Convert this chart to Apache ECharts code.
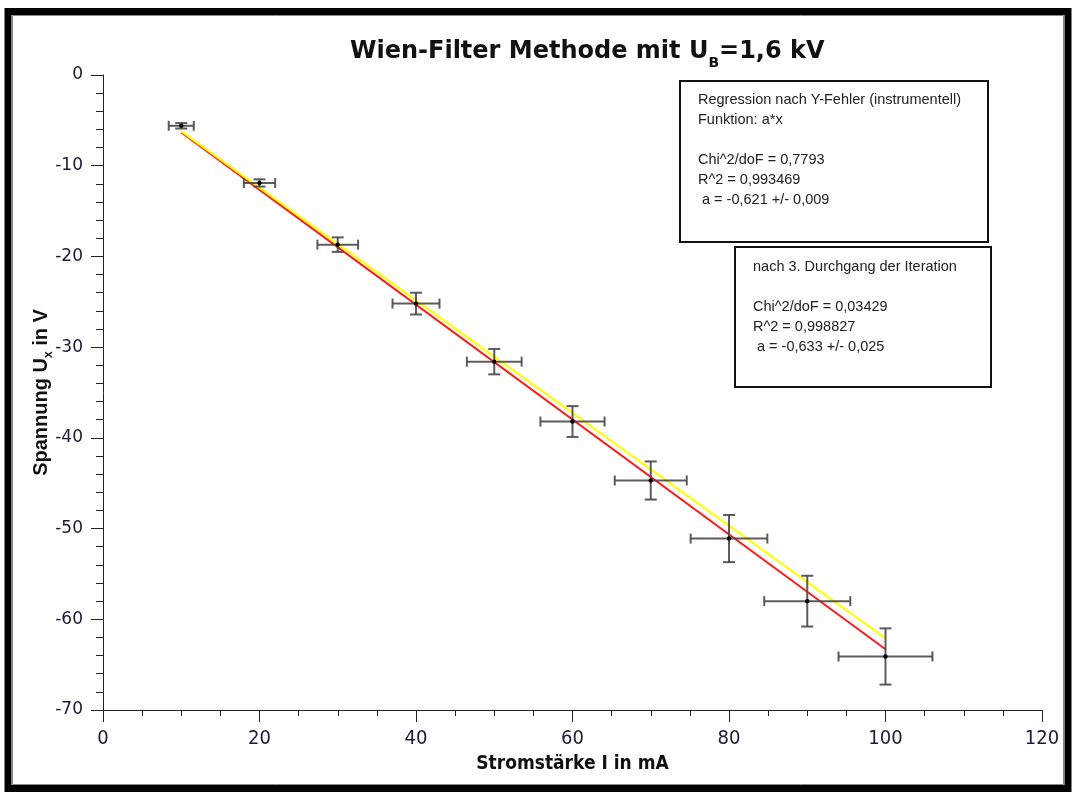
<!DOCTYPE html>
<html>
<head>
<meta charset="utf-8">
<title>Wien-Filter Methode</title>
<script src="https://cdn.jsdelivr.net/npm/echarts@6/dist/echarts.min.js"></script>
<style>
  html, body { margin: 0; padding: 0; background: #fff; }
  #chart { width: 1072px; height: 792px; }
</style>
</head>
<body>
<div id="chart"></div>
<script>
// Messwerte: Stromstärke I (mA), Spannung Ux (V) und Fehler
const current = [10, 20, 30, 40, 50, 60, 70, 80, 90, 100]
const voltage = [-5.6, -11.9, -18.7, -25.2, -31.6, -38.2, -44.7, -51.1, -58.0, -64.1]
const currentErr = [1.6, 2.0, 2.6, 3.0, 3.5, 4.1, 4.6, 4.9, 5.5, 6.0]
const voltageErr = [0.3, 0.4, 0.8, 1.2, 1.4, 1.7, 2.1, 2.6, 2.8, 3.1]

// Fitgeraden a*x (Endpunkte)
const fitX = [10, 100]
const fitYellow = [-6.21, -62.1]   // a = -0,621
const fitRed = [-6.33, -63.3]      // a = -0,633

const box1Lines = [
  'Regression nach Y-Fehler (instrumentell)',
  'Funktion: a*x',
  '',
  'Chi^2/doF = 0,7793',
  'R^2 = 0,993469',
  ' a = -0,621 +/- 0,009'
]
const box2Lines = [
  'nach 3. Durchgang der Iteration',
  '',
  'Chi^2/doF = 0,03429',
  'R^2 = 0,998827',
  ' a = -0,633 +/- 0,025'
]

const points = current.map((x, i) => [x, voltage[i], currentErr[i], voltageErr[i]])
const toLine = (ys) => fitX.map((x, i) => [x, ys[i]])

const labelFont = '"Liberation Sans Narrow", "DejaVu Sans Condensed", sans-serif'
const boxFont = '"Liberation Sans", Arial, sans-serif'
const axisColor = '#222'

const renderErrorBar = (params, api) => {
  const x = api.value(0)
  const y = api.value(1)
  const ex = api.value(2)
  const ey = api.value(3)
  const c = api.coord([x, y])
  const l = api.coord([x - ex, y])
  const r = api.coord([x + ex, y])
  const t = api.coord([x, y + ey])
  const b = api.coord([x, y - ey])
  const style = { stroke: '#4a4a4a', lineWidth: 2, opacity: 0.9 }
  const cap = 5
  const line = (x1, y1, x2, y2) => ({ type: 'line', shape: { x1, y1, x2, y2 }, style })
  return {
    type: 'group',
    children: [
      line(l[0], l[1], r[0], r[1]),
      line(l[0], l[1] - cap, l[0], l[1] + cap),
      line(r[0], r[1] - cap, r[0], r[1] + cap),
      line(t[0], t[1], b[0], b[1]),
      line(t[0] - 6, t[1], t[0] + 6, t[1]),
      line(b[0] - 6, b[1], b[0] + 6, b[1]),
      { type: 'circle', shape: { cx: c[0], cy: c[1], r: 2.2 }, style: { fill: '#000' } }
    ]
  }
}

const textBox = (x, y, w, h, lines, padX, padY) => ({
  type: 'group',
  left: x,
  top: y,
  children: [
    { type: 'rect', shape: { x: 0, y: 0, width: w, height: h }, style: { fill: '#fff', stroke: '#111', lineWidth: 2 } },
    {
      type: 'text',
      x: padX,
      y: padY,
      style: { text: lines.join('\n'), font: '14.5px ' + boxFont, fill: '#222', lineHeight: 20 }
    }
  ]
})

const chart = echarts.init(document.getElementById('chart'))

chart.setOption({
  backgroundColor: '#fff',
  animation: false,
  title: {
    text: '{a|Wien-Filter Methode mit U}{b|B}{a|=1,6 kV}',
    left: 345,
    top: 27,
    textStyle: {
      rich: {
        a: { fontFamily: '"DejaVu Sans", Verdana, sans-serif', fontWeight: 'bold', fontSize: 24, color: '#111', lineHeight: 32, verticalAlign: 'bottom' },
        b: { fontFamily: '"DejaVu Sans", Verdana, sans-serif', fontWeight: 'bold', fontSize: 14, color: '#111', lineHeight: 32, verticalAlign: 'bottom', padding: [0, 0, -6, 0] }
      }
    }
  },
  grid: { left: 103, right: 30, top: 75, bottom: 82 },
  xAxis: {
    type: 'value',
    min: 0,
    max: 120,
    interval: 20,
    name: 'Stromstärke I in mA',
    nameLocation: 'middle',
    nameGap: 45,
    nameTextStyle: { fontFamily: labelFont, fontWeight: 'bold', fontSize: 19, color: '#111' },
    axisLine: { onZero: false, lineStyle: { color: axisColor, width: 1 } },
    axisTick: { show: true, inside: false, length: 12, lineStyle: { color: axisColor } },
    minorTick: { show: true, splitNumber: 4, length: 6, lineStyle: { color: axisColor } },
    axisLabel: { fontFamily: labelFont, fontSize: 20, color: '#1a1a3a', margin: 19 },
    splitLine: { show: false }
  },
  yAxis: {
    type: 'value',
    min: -70,
    max: 0,
    interval: 10,
    name: '{a|Spannung U}{b|x}{a| in V}',
    nameLocation: 'middle',
    nameRotate: 90,
    nameGap: 52,
    nameMoveOverlap: false,
    nameTextStyle: {
      rich: {
        a: { fontFamily: boxFont, fontWeight: 'bold', fontSize: 20, color: '#111', lineHeight: 24, verticalAlign: 'bottom' },
        b: { fontFamily: boxFont, fontWeight: 'bold', fontSize: 12, color: '#111', lineHeight: 24, verticalAlign: 'bottom', padding: [0, 0, -4, 0] }
      }
    },
    axisLine: { show: true, onZero: false, lineStyle: { color: axisColor, width: 1 } },
    axisTick: { show: true, inside: false, length: 12, lineStyle: { color: axisColor } },
    minorTick: { show: true, splitNumber: 5, length: 7, lineStyle: { color: axisColor } },
    axisLabel: { fontFamily: '"DejaVu Sans", Verdana, sans-serif', fontSize: 17, color: '#1a1a3a', margin: 20 },
    splitLine: { show: false }
  },
  series: [
    {
      name: 'Fit a = -0,633',
      type: 'line',
      data: toLine(fitRed),
      symbol: 'none',
      lineStyle: { color: '#ff1a1a', width: 2 },
      z: 2
    },
    {
      name: 'Fit a = -0,621',
      type: 'line',
      data: toLine(fitYellow),
      symbol: 'none',
      lineStyle: { color: '#ffff00', width: 2 },
      z: 3
    },
    {
      name: 'Messwerte',
      type: 'custom',
      renderItem: renderErrorBar,
      data: points,
      encode: { x: 0, y: 1 },
      z: 4
    }
  ],
  graphic: [
    textBox(679, 80, 308, 161, box1Lines, 18, 9),
    textBox(734, 246, 256, 140, box2Lines, 18, 10),
    { type: 'rect', shape: { x: 8, y: 11.5, width: 1060, height: 777 }, style: { fill: 'none', stroke: '#000', lineWidth: 7 } },
    { type: 'rect', shape: { x: 12.5, y: 15.5, width: 1051, height: 769 }, style: { fill: 'none', stroke: '#888', lineWidth: 1 } }
  ]
})
</script>
</body>
</html>
